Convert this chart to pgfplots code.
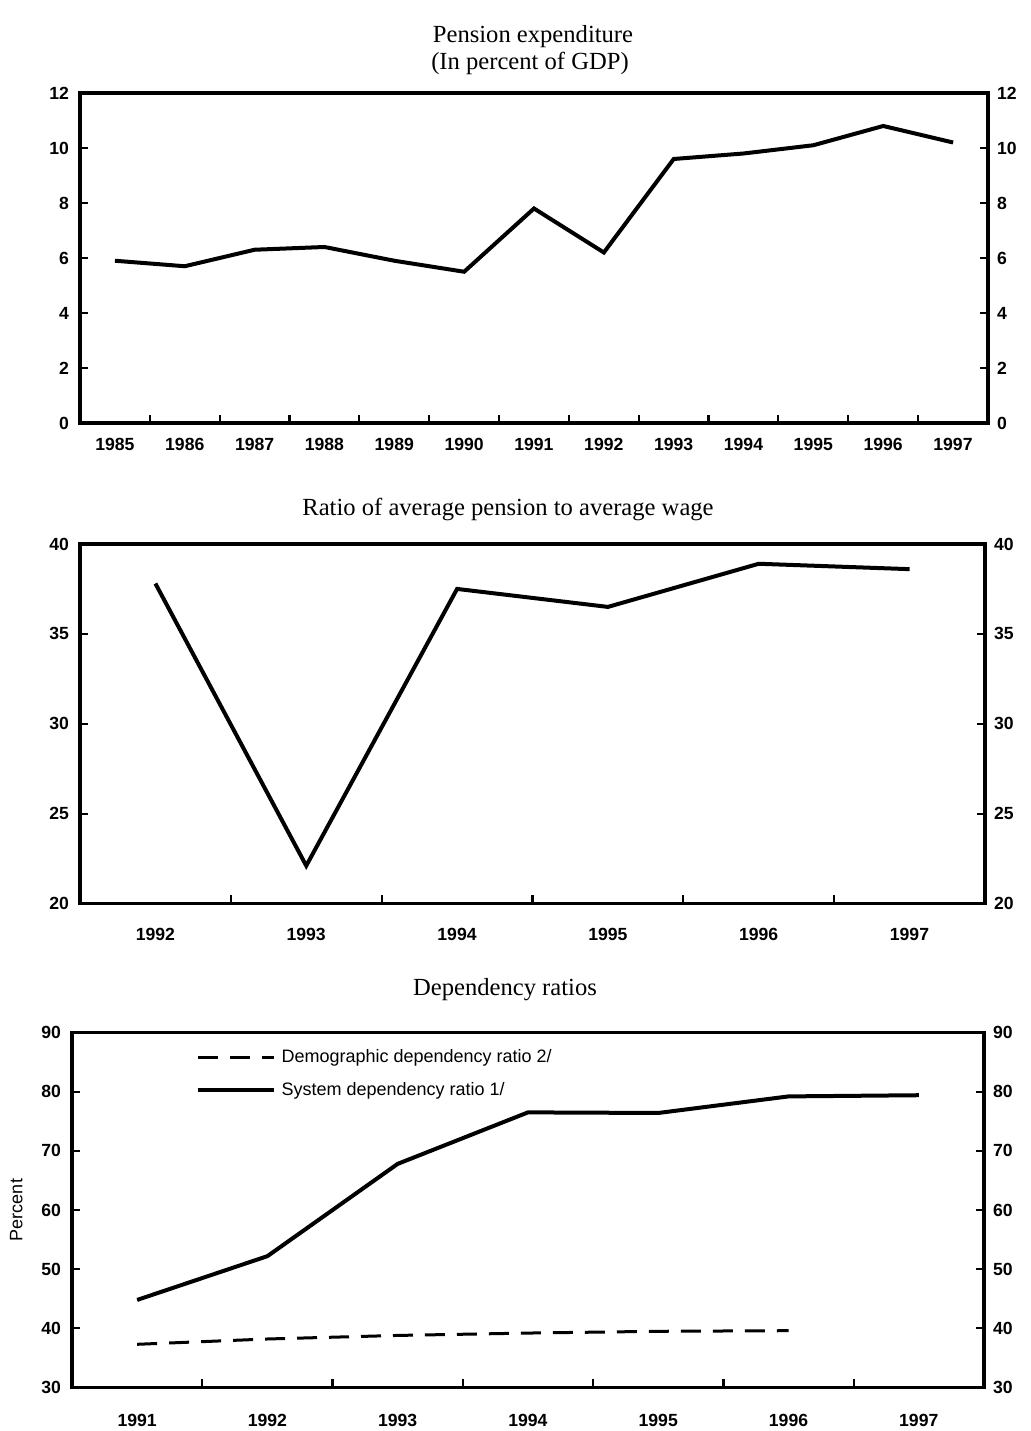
\documentclass[border=0pt]{standalone}
\usepackage{fontspec}
\setmainfont{Liberation Serif}
\setsansfont{Liberation Sans}
\usepackage{pgfplots}
\pgfplotsset{compat=1.18}

\pgfplotsset{
  panel/.style={
    scale only axis,
    axis line style={line width=1.7pt},
    tick align=inside,
    major tick length=4pt,
    minor tick length=4pt,
    tick style={line width=1.1pt, black},
    major x tick style={draw=none},
    xtick pos=bottom,
    tick label style={font=\sffamily\bfseries\fontsize{8.8}{10}\selectfont},
    /pgf/number format/assume math mode=true,
    /pgf/number format/1000 sep={},
    xticklabel style={yshift=-4pt},
    yticklabel style={xshift=-2pt},
  },
  rightaxis/.style={
    scale only axis,
    axis x line=none,
    axis y line*=right,
    axis line style={line width=1.7pt, -},
    tick align=inside,
    major tick length=4pt,
    tick style={line width=1.1pt, black},
    tick label style={font=\sffamily\bfseries\fontsize{8.8}{10}\selectfont},
    /pgf/number format/assume math mode=true,
    yticklabel style={xshift=1pt},
  },
  dline/.style={black, line width=2pt},
}

\begin{document}
\begin{tikzpicture}
\path[use as bounding box] (0,0) rectangle (515.5pt,715.5pt);

% titles
\node[font=\fontsize{12.3}{15}\selectfont] at (266.5pt,697pt) {Pension expenditure};
\node[font=\fontsize{12.3}{15}\selectfont] at (265pt,684pt) {(In percent of GDP)};
\node[font=\fontsize{12.3}{15}\selectfont] at (254pt,460.5pt) {Ratio of average pension to average wage};
\node[font=\fontsize{12.3}{15}\selectfont] at (252.5pt,220.5pt) {Dependency ratios};

% panel 1: pension expenditure
\begin{axis}[panel,
  at={(40pt,504pt)}, anchor=south west,
  width=454pt, height=165pt,
  xmin=1984.5, xmax=1997.5, ymin=0, ymax=12,
  xtick={1985,...,1997},
  minor xtick={1985.5,1986.5,...,1996.5},
  ytick={0,2,...,12}, ytick pos=left,
]
\addplot[dline] coordinates {
  (1985,5.9) (1986,5.7) (1987,6.3) (1988,6.4) (1989,5.9) (1990,5.5)
  (1991,7.8) (1992,6.2) (1993,9.6) (1994,9.8) (1995,10.1) (1996,10.8) (1997,10.2)
};
\end{axis}
\begin{axis}[rightaxis,
  at={(40pt,504pt)}, anchor=south west,
  width=454pt, height=165pt,
  xmin=1984.5, xmax=1997.5, ymin=0, ymax=12,
  ytick={0,2,...,12},
]
\end{axis}

% panel 2: ratio of average pension to average wage
\begin{axis}[panel,
  at={(40pt,263.75pt)}, anchor=south west,
  width=452.5pt, height=179.75pt,
  xmin=1991.5, xmax=1997.5, ymin=20, ymax=40,
  xtick={1992,...,1997},
  minor xtick={1992.5,1993.5,...,1996.5},
  ytick={20,25,...,40}, ytick pos=left,
  xticklabel style={yshift=-5pt},
]
\addplot[dline] coordinates {
  (1992,37.8) (1993,22.1) (1994,37.5) (1995,36.5) (1996,38.9) (1997,38.6)
};
\end{axis}
\begin{axis}[rightaxis,
  at={(40pt,263.75pt)}, anchor=south west,
  width=452.5pt, height=179.75pt,
  xmin=1991.5, xmax=1997.5, ymin=20, ymax=40,
  ytick={20,25,...,40},
]
\end{axis}

% panel 3: dependency ratios
\begin{axis}[panel,
  at={(36pt,21.75pt)}, anchor=south west,
  width=456pt, height=177.5pt,
  xmin=1990.5, xmax=1997.5, ymin=30, ymax=90,
  xtick={1991,...,1997},
  minor xtick={1991.5,1992.5,...,1996.5},
  ytick={30,40,...,90}, ytick pos=left,
  xticklabel style={yshift=-6pt},
  ylabel={Percent},
  ylabel style={font=\sffamily\fontsize{9}{10}\selectfont, yshift=2.5pt},
  legend style={draw=none, fill=none, at={(0.135,0.965)}, anchor=north west,
    font=\sffamily\fontsize{9}{10}\selectfont, row sep=4.5pt,
    inner sep=0pt, cells={anchor=west},
    nodes={inner xsep=3pt}},
  legend image code/.code={\draw[#1] (0pt,0pt) -- (38pt,0pt);},
]
\addplot[black, line width=1.5pt, dash pattern=on 10pt off 6pt] coordinates {
  (1991,37.3) (1992,38.2) (1993,38.8) (1994,39.2) (1995,39.5) (1996,39.6)
};
\addlegendentry{Demographic dependency ratio 2/}
\addplot[dline] coordinates {
  (1991,44.8) (1992,52.2) (1993,67.8) (1994,76.5) (1995,76.4) (1996,79.2) (1997,79.4)
};
\addlegendentry{System dependency ratio 1/}
\end{axis}
\begin{axis}[rightaxis,
  at={(36pt,21.75pt)}, anchor=south west,
  width=456pt, height=177.5pt,
  xmin=1990.5, xmax=1997.5, ymin=30, ymax=90,
  ytick={30,40,...,90},
]
\end{axis}
\end{tikzpicture}
\end{document}
